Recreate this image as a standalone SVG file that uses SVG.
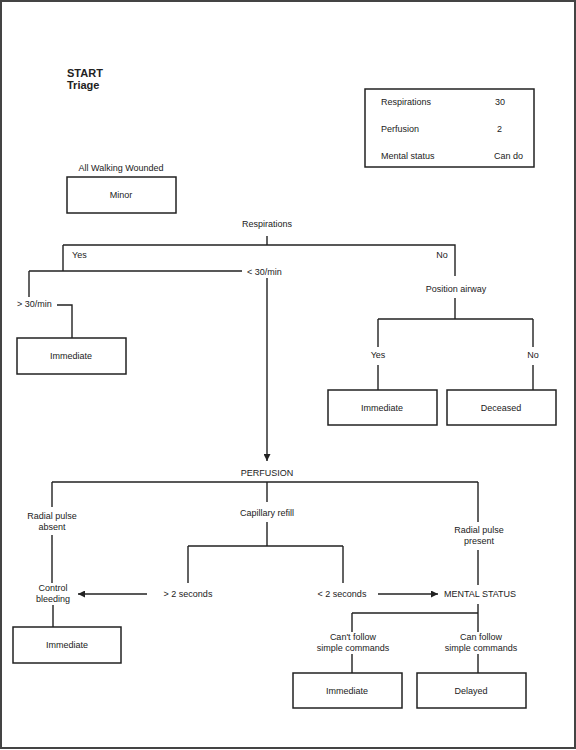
<svg xmlns="http://www.w3.org/2000/svg" width="576" height="750" viewBox="0 0 576 750">
<style>
text{font-family:"Liberation Sans",Arial,sans-serif;font-size:9px;fill:#222}
.c{text-anchor:middle}
.t{font-weight:bold;font-size:11px}
.box{fill:#fff;stroke:#222;stroke-width:1.5}
.ln{fill:none;stroke:#222;stroke-width:1.4}
</style>
<defs>
<marker id="ah" viewBox="0 0 10 10" refX="10" refY="5" markerWidth="8" markerHeight="7" markerUnits="userSpaceOnUse" orient="auto">
<path d="M0,0 L10,5 L0,10 Z" fill="#222"/>
</marker>
</defs>
<rect x="1" y="1" width="574" height="747" fill="#fff" stroke="#444" stroke-width="2"/>
<g id="title">
<text class="t" x="67" y="77">START</text>
<text class="t" x="67" y="89">Triage</text>
</g>
<g id="infobox">
<rect class="box" x="365" y="89" width="169" height="78"/>
<text x="381" y="105">Respirations</text><text x="495" y="105">30</text>
<text x="381" y="132">Perfusion</text><text x="497" y="132">2</text>
<text x="381" y="159">Mental status</text><text x="494" y="159">Can do</text>
</g>
<g id="walking">
<text class="c" x="121" y="171">All Walking Wounded</text>
<rect class="box" x="67" y="177" width="109" height="36"/>
<text class="c" x="121" y="198">Minor</text>
</g>
<g id="respirations"><text class="c" x="267" y="227">Respirations</text></g>
<g id="yes1"><text x="72" y="258">Yes</text></g>
<g id="no1"><text class="c" x="442" y="258">No</text></g>
<g id="lt30"><text x="247" y="275">&lt; 30/min</text></g>
<g id="gt30"><text x="17" y="307">&gt; 30/min</text></g>
<g id="immediate1">
<rect class="box" x="17" y="338" width="109" height="36"/>
<text class="c" x="71" y="359">Immediate</text>
</g>
<g id="position"><text class="c" x="456" y="292">Position airway</text></g>
<g id="yes2"><text class="c" x="378" y="358">Yes</text></g>
<g id="no2"><text class="c" x="533" y="358">No</text></g>
<g id="immediate2">
<rect class="box" x="328" y="390" width="109" height="35"/>
<text class="c" x="382" y="411">Immediate</text>
</g>
<g id="deceased">
<rect class="box" x="447" y="390" width="109" height="35"/>
<text class="c" x="501" y="411">Deceased</text>
</g>
<g id="perfusion"><text class="c" x="267" y="476">PERFUSION</text></g>
<g id="absent"><text class="c" x="52" y="519">Radial pulse</text><text class="c" x="52" y="530">absent</text></g>
<g id="capillary"><text class="c" x="267" y="516">Capillary refill</text></g>
<g id="present"><text class="c" x="479" y="533">Radial pulse</text><text class="c" x="479" y="544">present</text></g>
<g id="gt2"><text class="c" x="188" y="597">&gt; 2 seconds</text></g>
<g id="lt2"><text class="c" x="342" y="597">&lt; 2 seconds</text></g>
<g id="control"><text class="c" x="53" y="591">Control</text><text class="c" x="53" y="602">bleeding</text></g>
<g id="mental"><text class="c" x="480" y="597">MENTAL STATUS</text></g>
<g id="immediate3">
<rect class="box" x="13" y="627" width="108" height="36"/>
<text class="c" x="67" y="648">Immediate</text>
</g>
<g id="cant"><text class="c" x="353" y="640">Can't follow</text><text class="c" x="353" y="651">simple commands</text></g>
<g id="can"><text class="c" x="481" y="640">Can follow</text><text class="c" x="481" y="651">simple commands</text></g>
<g id="immediate4">
<rect class="box" x="293" y="673" width="109" height="35"/>
<text class="c" x="347" y="694">Immediate</text>
</g>
<g id="delayed">
<rect class="box" x="417" y="673" width="109" height="35"/>
<text class="c" x="471" y="694">Delayed</text>
</g>
<g id="connectors">
<path class="ln" d="M267,236 V245 M63,245 H455 V276 M63,245 V271 M29,271 H242 M29,271 V297 M57,305 H72 V338"/>
<path class="ln" d="M455,298 V319 M378,319 H533 M378,319 V347 M378,365 V390 M533,319 V347 M533,365 V390"/>
<path class="ln" d="M267,278 V461" marker-end="url(#ah)"/>
<path class="ln" d="M52,482 H478 M52,482 V507 M52,535 V583 M53,605 V627 M267,482 V502 M267,522 V546 M188,546 H343 M188,546 V583 M343,546 V583 M478,482 V522 M478,550 V585"/>
<path class="ln" d="M147,594 H78" marker-end="url(#ah)"/>
<path class="ln" d="M378,594 H438" marker-end="url(#ah)"/>
<path class="ln" d="M478,604 V632 M352,613 H478 M352,613 V632 M352,654 V673 M478,654 V673"/>
</g>
</svg>
